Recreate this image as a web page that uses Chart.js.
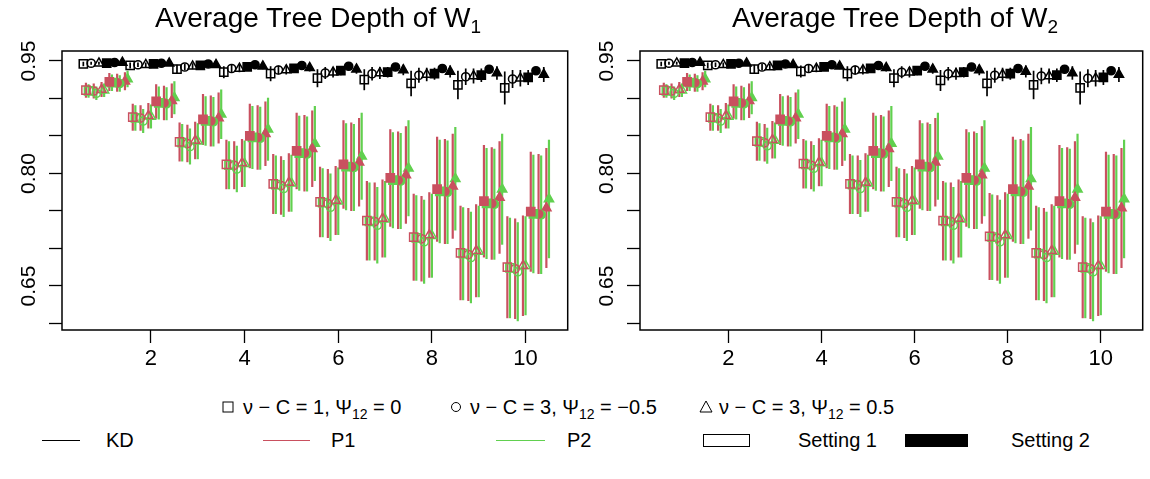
<!DOCTYPE html>
<html>
<head>
<meta charset="utf-8">
<script src="https://cdn.jsdelivr.net/npm/chart.js@4.4.1/dist/chart.umd.min.js"></script>
<style>
html,body{margin:0;padding:0;background:#fff;width:1150px;height:479px;overflow:hidden;font-family:"Liberation Sans",Arial,sans-serif;color:#000;}
canvas{position:absolute;top:0;}
#c1{left:0;}
#c2{left:578px;}
.title{position:absolute;top:2px;font-size:28px;white-space:nowrap;transform:translateX(-50%);}
.title sub{font-size:19px;vertical-align:-6px;line-height:0;}
.lg{position:absolute;font-size:20px;white-space:nowrap;line-height:24px;}
.lg sub{font-size:14px;vertical-align:-5px;line-height:0;}
.sym{position:absolute;}
.ln{position:absolute;height:0;border-top:1.5px solid;}
.box{position:absolute;border:1.5px solid #000;box-sizing:border-box;}
</style>
</head>
<body>
<canvas id="c1" width="575" height="380"></canvas>
<canvas id="c2" width="572" height="380"></canvas>
<div class="title" style="left:318px;">Average Tree Depth of W<sub>1</sub></div>
<div class="title" style="left:895px;">Average Tree Depth of W<sub>2</sub></div>

<!-- legend row 1 -->
<svg class="sym" style="left:222px;top:401px" width="12" height="12"><rect x="1" y="1" width="10" height="10" fill="none" stroke="#000" stroke-width="1"/></svg>
<div class="lg" style="left:243px;top:395px;">ν − C = 1, Ψ<sub>12</sub> = 0</div>
<svg class="sym" style="left:450px;top:401px" width="12" height="12"><circle cx="6" cy="6" r="4.5" fill="none" stroke="#000" stroke-width="1"/></svg>
<div class="lg" style="left:470px;top:395px;">ν − C = 3, Ψ<sub>12</sub> = −0.5</div>
<svg class="sym" style="left:699px;top:400px" width="14" height="13"><polygon points="7,1 13,12 1,12" fill="none" stroke="#000" stroke-width="1"/></svg>
<div class="lg" style="left:719px;top:395px;">ν − C = 3, Ψ<sub>12</sub> = 0.5</div>

<!-- legend row 2 -->
<div class="ln" style="left:42px;width:38px;top:440px;border-color:#000;"></div>
<div class="lg" style="left:106px;top:428px;">KD</div>
<div class="ln" style="left:263px;width:47px;top:440px;border-color:#C9505F;"></div>
<div class="lg" style="left:331px;top:428px;">P1</div>
<div class="ln" style="left:496px;width:49px;top:440px;border-color:#61D04F;"></div>
<div class="lg" style="left:567px;top:428px;">P2</div>
<div class="box" style="left:703px;width:47px;top:434px;height:13px;background:#fff;"></div>
<div class="lg" style="left:798px;top:428px;">Setting 1</div>
<div class="box" style="left:905px;width:63px;top:434px;height:13px;background:#000;"></div>
<div class="lg" style="left:1011px;top:428px;">Setting 2</div>

<script>
// ---------- categories / ticks ----------
const groups = [1, 2, 3, 4, 5, 6, 7, 8, 9, 10];
const xTickVals = [2, 4, 6, 8, 10];
const yTickVals = [0.60, 0.65, 0.70, 0.75, 0.80, 0.85, 0.90, 0.95];
const yLabelVals = [0.65, 0.80, 0.95];
const methodNames = ['KD', 'P1', 'P2'];
const configNames = ['v-C=1, Psi12=0', 'v-C=3, Psi12=-0.5', 'v-C=3, Psi12=0.5'];
const settingNames = ['Setting 1', 'Setting 2'];

// ---------- W1 (left panel) : rows = configs [square, circle, triangle] ----------
const w1_KD_s1_mean = [
  [0.946, 0.944, 0.939, 0.935, 0.933, 0.927, 0.925, 0.920, 0.918, 0.914],
  [0.947, 0.945, 0.942, 0.940, 0.938, 0.934, 0.933, 0.931, 0.929, 0.926],
  [0.947, 0.945, 0.943, 0.940, 0.938, 0.935, 0.934, 0.932, 0.930, 0.927]];
const w1_KD_s1_err = [
  [0.003, 0.004, 0.006, 0.008, 0.010, 0.012, 0.014, 0.017, 0.019, 0.022],
  [0.002, 0.003, 0.004, 0.005, 0.006, 0.008, 0.009, 0.010, 0.011, 0.012],
  [0.002, 0.003, 0.004, 0.005, 0.006, 0.007, 0.008, 0.009, 0.010, 0.011]];
const w1_KD_s2_mean = [
  [0.947, 0.946, 0.944, 0.942, 0.940, 0.937, 0.935, 0.933, 0.931, 0.928],
  [0.948, 0.947, 0.946, 0.945, 0.944, 0.943, 0.942, 0.940, 0.939, 0.937],
  [0.948, 0.947, 0.945, 0.943, 0.941, 0.939, 0.938, 0.936, 0.934, 0.932]];
const w1_KD_s2_err = [
  [0.002, 0.003, 0.003, 0.004, 0.005, 0.006, 0.007, 0.008, 0.009, 0.010],
  [0.001, 0.001, 0.002, 0.002, 0.002, 0.003, 0.003, 0.003, 0.004, 0.004],
  [0.002, 0.002, 0.003, 0.004, 0.005, 0.006, 0.007, 0.008, 0.009, 0.010]];
const w1_P1_s1_mean = [
  [0.911, 0.875, 0.842, 0.812, 0.786, 0.762, 0.737, 0.715, 0.694, 0.675],
  [0.910, 0.874, 0.840, 0.811, 0.784, 0.760, 0.736, 0.713, 0.692, 0.673],
  [0.912, 0.877, 0.844, 0.814, 0.788, 0.764, 0.740, 0.718, 0.697, 0.677]];
const w1_P1_s1_err = [
  [0.010, 0.018, 0.026, 0.033, 0.040, 0.047, 0.053, 0.058, 0.063, 0.068],
  [0.010, 0.017, 0.025, 0.032, 0.039, 0.046, 0.052, 0.057, 0.062, 0.067],
  [0.010, 0.017, 0.025, 0.032, 0.039, 0.046, 0.052, 0.057, 0.062, 0.067]];
const w1_P2_s1_mean = [
  [0.910, 0.874, 0.841, 0.811, 0.785, 0.761, 0.736, 0.714, 0.693, 0.674],
  [0.907, 0.870, 0.836, 0.806, 0.780, 0.755, 0.731, 0.709, 0.688, 0.669],
  [0.911, 0.876, 0.843, 0.813, 0.787, 0.763, 0.739, 0.717, 0.696, 0.677]];
const w1_P2_s1_err = [
  [0.009, 0.017, 0.025, 0.032, 0.039, 0.046, 0.052, 0.057, 0.062, 0.067],
  [0.009, 0.016, 0.024, 0.031, 0.038, 0.045, 0.051, 0.056, 0.061, 0.066],
  [0.009, 0.016, 0.024, 0.031, 0.038, 0.045, 0.051, 0.056, 0.061, 0.066]];
const w1_P1_s2_mean = [
  [0.922, 0.896, 0.872, 0.850, 0.830, 0.812, 0.794, 0.779, 0.763, 0.749],
  [0.921, 0.894, 0.870, 0.848, 0.827, 0.809, 0.791, 0.776, 0.760, 0.746],
  [0.923, 0.897, 0.874, 0.853, 0.833, 0.815, 0.798, 0.783, 0.768, 0.754]];
const w1_P1_s2_err = [
  [0.012, 0.023, 0.034, 0.043, 0.051, 0.059, 0.065, 0.070, 0.075, 0.080],
  [0.012, 0.023, 0.034, 0.043, 0.051, 0.059, 0.065, 0.070, 0.075, 0.080],
  [0.012, 0.023, 0.034, 0.043, 0.051, 0.059, 0.065, 0.070, 0.075, 0.080]];
const w1_P2_s2_mean = [
  [0.921, 0.894, 0.870, 0.848, 0.827, 0.809, 0.791, 0.776, 0.760, 0.746],
  [0.920, 0.893, 0.869, 0.847, 0.826, 0.808, 0.790, 0.775, 0.759, 0.745],
  [0.926, 0.901, 0.879, 0.859, 0.840, 0.823, 0.807, 0.793, 0.779, 0.766]];
const w1_P2_s2_err = [
  [0.011, 0.022, 0.033, 0.042, 0.050, 0.058, 0.064, 0.069, 0.074, 0.079],
  [0.011, 0.022, 0.033, 0.042, 0.050, 0.058, 0.064, 0.069, 0.074, 0.079],
  [0.011, 0.022, 0.033, 0.042, 0.050, 0.058, 0.064, 0.069, 0.074, 0.079]];

// ---------- W2 (right panel) ----------
const w2_KD_s1_mean = [
  [0.946, 0.944, 0.939, 0.936, 0.933, 0.927, 0.924, 0.920, 0.918, 0.914],
  [0.947, 0.945, 0.942, 0.940, 0.938, 0.935, 0.933, 0.931, 0.930, 0.927],
  [0.947, 0.945, 0.942, 0.940, 0.938, 0.935, 0.933, 0.932, 0.930, 0.927]];
const w2_KD_s1_err = [
  [0.003, 0.004, 0.006, 0.008, 0.010, 0.012, 0.014, 0.017, 0.019, 0.022],
  [0.002, 0.003, 0.004, 0.005, 0.006, 0.008, 0.009, 0.010, 0.011, 0.012],
  [0.002, 0.003, 0.004, 0.005, 0.006, 0.007, 0.008, 0.009, 0.010, 0.011]];
const w2_KD_s2_mean = [
  [0.947, 0.946, 0.944, 0.942, 0.940, 0.937, 0.935, 0.933, 0.931, 0.928],
  [0.948, 0.947, 0.946, 0.945, 0.944, 0.943, 0.942, 0.940, 0.939, 0.937],
  [0.948, 0.947, 0.945, 0.943, 0.941, 0.939, 0.938, 0.936, 0.934, 0.932]];
const w2_KD_s2_err = [
  [0.002, 0.003, 0.003, 0.004, 0.005, 0.006, 0.007, 0.008, 0.009, 0.010],
  [0.001, 0.001, 0.002, 0.002, 0.002, 0.003, 0.003, 0.003, 0.004, 0.004],
  [0.002, 0.002, 0.003, 0.004, 0.005, 0.006, 0.007, 0.008, 0.009, 0.010]];
const w2_P1_s1_mean = [
  [0.911, 0.875, 0.843, 0.813, 0.786, 0.762, 0.737, 0.716, 0.694, 0.675],
  [0.910, 0.874, 0.841, 0.811, 0.785, 0.760, 0.736, 0.714, 0.692, 0.673],
  [0.912, 0.877, 0.845, 0.815, 0.788, 0.764, 0.740, 0.718, 0.697, 0.677]];
const w2_P1_s1_err = [
  [0.010, 0.018, 0.026, 0.033, 0.040, 0.047, 0.053, 0.058, 0.063, 0.068],
  [0.010, 0.017, 0.025, 0.032, 0.039, 0.046, 0.052, 0.057, 0.062, 0.067],
  [0.010, 0.017, 0.025, 0.032, 0.039, 0.046, 0.052, 0.057, 0.062, 0.067]];
const w2_P2_s1_mean = [
  [0.910, 0.874, 0.842, 0.812, 0.785, 0.761, 0.736, 0.715, 0.693, 0.674],
  [0.907, 0.870, 0.837, 0.807, 0.780, 0.755, 0.731, 0.709, 0.688, 0.669],
  [0.911, 0.876, 0.844, 0.814, 0.787, 0.763, 0.739, 0.717, 0.696, 0.677]];
const w2_P2_s1_err = [
  [0.009, 0.017, 0.025, 0.032, 0.039, 0.046, 0.052, 0.057, 0.062, 0.067],
  [0.009, 0.016, 0.024, 0.031, 0.038, 0.045, 0.051, 0.056, 0.061, 0.066],
  [0.009, 0.016, 0.024, 0.031, 0.038, 0.045, 0.051, 0.056, 0.061, 0.066]];
const w2_P1_s2_mean = [
  [0.922, 0.896, 0.872, 0.850, 0.830, 0.812, 0.794, 0.779, 0.763, 0.749],
  [0.921, 0.894, 0.870, 0.848, 0.827, 0.809, 0.791, 0.776, 0.760, 0.746],
  [0.923, 0.897, 0.874, 0.853, 0.833, 0.815, 0.798, 0.783, 0.768, 0.754]];
const w2_P1_s2_err = [
  [0.012, 0.023, 0.034, 0.043, 0.051, 0.059, 0.065, 0.070, 0.075, 0.080],
  [0.012, 0.023, 0.034, 0.043, 0.051, 0.059, 0.065, 0.070, 0.075, 0.080],
  [0.012, 0.023, 0.034, 0.043, 0.051, 0.059, 0.065, 0.070, 0.075, 0.080]];
const w2_P2_s2_mean = [
  [0.921, 0.894, 0.870, 0.848, 0.827, 0.809, 0.791, 0.776, 0.760, 0.746],
  [0.920, 0.893, 0.869, 0.847, 0.826, 0.808, 0.790, 0.775, 0.759, 0.745],
  [0.926, 0.901, 0.879, 0.859, 0.840, 0.823, 0.807, 0.793, 0.779, 0.766]];
const w2_P2_s2_err = [
  [0.011, 0.022, 0.033, 0.042, 0.050, 0.058, 0.064, 0.069, 0.074, 0.079],
  [0.011, 0.022, 0.033, 0.042, 0.050, 0.058, 0.064, 0.069, 0.074, 0.079],
  [0.011, 0.022, 0.033, 0.042, 0.050, 0.058, 0.064, 0.069, 0.074, 0.079]];

// ---------- styling ----------
const methodColors = ['#000000', '#C9505F', '#61D04F'];
const pointStyles = ['rect', 'circle', 'triangle'];
const pointRadii = [5.8, 4.1, 5.3];

const W1 = {
  KD: [{mean: w1_KD_s1_mean, err: w1_KD_s1_err}, {mean: w1_KD_s2_mean, err: w1_KD_s2_err}],
  P1: [{mean: w1_P1_s1_mean, err: w1_P1_s1_err}, {mean: w1_P1_s2_mean, err: w1_P1_s2_err}],
  P2: [{mean: w1_P2_s1_mean, err: w1_P2_s1_err}, {mean: w1_P2_s2_mean, err: w1_P2_s2_err}]
};
const W2 = {
  KD: [{mean: w2_KD_s1_mean, err: w2_KD_s1_err}, {mean: w2_KD_s2_mean, err: w2_KD_s2_err}],
  P1: [{mean: w2_P1_s1_mean, err: w2_P1_s1_err}, {mean: w2_P1_s2_mean, err: w2_P1_s2_err}],
  P2: [{mean: w2_P2_s1_mean, err: w2_P2_s1_err}, {mean: w2_P2_s2_mean, err: w2_P2_s2_err}]
};

function buildDatasets(panel) {
  const ds = [];
  for (let s = 0; s < 2; s++) {
    for (let c = 0; c < 3; c++) {
      for (let m = 0; m < 3; m++) {
        const j = s * 9 + c * 3 + m;
        const src = panel[methodNames[m]][s];
        const mean = src.mean[c], err = src.err[c];
        const col = methodColors[m];
        ds.push({
          label: methodNames[m] + ' ' + configNames[c] + ' ' + settingNames[s],
          data: groups.map((g, i) => ({x: g + (j - 8) / 18, y: mean[i], lo: mean[i] - err[i], hi: mean[i] + err[i]})),
          pointStyle: pointStyles[c],
          pointRadius: pointRadii[c],
          pointHoverRadius: pointRadii[c],
          borderColor: col,
          backgroundColor: s === 1 ? col : 'rgba(0,0,0,0)',
          borderWidth: 1.5,
          showLine: false,
          barColor: col,
          barWidth: m === 0 ? 1.7 : 2.2
        });
      }
    }
  }
  return ds;
}

const errorBars = {
  id: 'errorBars',
  beforeDatasetsDraw(chart) {
    const {ctx, scales: {x, y}} = chart;
    chart.data.datasets.forEach(ds => {
      ctx.save();
      ctx.strokeStyle = ds.barColor;
      ctx.lineWidth = ds.barWidth;
      ds.data.forEach(p => {
        const px = x.getPixelForValue(p.x);
        ctx.beginPath();
        ctx.moveTo(px, y.getPixelForValue(p.lo));
        ctx.lineTo(px, y.getPixelForValue(p.hi));
        ctx.stroke();
      });
      ctx.restore();
    });
  }
};

const frame = {
  id: 'frame',
  afterDraw(chart) {
    const {ctx, chartArea: a, scales: {y}} = chart;
    ctx.save();
    ctx.strokeStyle = '#000';
    ctx.lineWidth = 1.5;
    ctx.strokeRect(a.left, a.top, a.right - a.left, a.bottom - a.top);
    ctx.fillStyle = '#000';
    ctx.font = '21px "Liberation Sans", Arial, sans-serif';
    ctx.textAlign = 'center';
    ctx.textBaseline = 'middle';
    yLabelVals.forEach(v => {
      ctx.save();
      ctx.translate(a.left - 33, y.getPixelForValue(v));
      ctx.rotate(-Math.PI / 2);
      ctx.fillText(v.toFixed(2), 0, 0);
      ctx.restore();
    });
    ctx.restore();
  }
};

function makeChart(id, panel, padRight) {
  return new Chart(document.getElementById(id), {
    type: 'scatter',
    data: {datasets: buildDatasets(panel)},
    options: {
      responsive: false,
      animation: false,
      devicePixelRatio: 1,
      layout: {padding: {top: 51, right: padRight, left: 0, bottom: 0}},
      plugins: {legend: {display: false}, tooltip: {enabled: false}, title: {display: false}},
      scales: {
        x: {
          type: 'linear', min: 0.1, max: 10.9,
          afterBuildTicks: s => { s.ticks = xTickVals.map(v => ({value: v})); },
          afterFit: s => { s.height = 50; },
          grid: {drawOnChartArea: false, drawTicks: true, tickLength: 13, color: '#000', tickWidth: 1.3},
          border: {display: false},
          ticks: {color: '#000', padding: 3, font: {size: 22, family: '"Liberation Sans", Arial, sans-serif'}, maxRotation: 0}
        },
        y: {
          type: 'linear', min: 0.5913, max: 0.9633,
          afterBuildTicks: s => { s.ticks = yTickVals.map(v => ({value: v})); },
          afterFit: s => { s.width = 62; },
          grid: {drawOnChartArea: false, drawTicks: true, tickLength: 13, color: '#000', tickWidth: 1.3},
          border: {display: false},
          ticks: {display: false}
        }
      }
    },
    plugins: [errorBars, frame]
  });
}

makeChart('c1', W1, 3);
makeChart('c2', W2, 2);
</script>
</body>
</html>
